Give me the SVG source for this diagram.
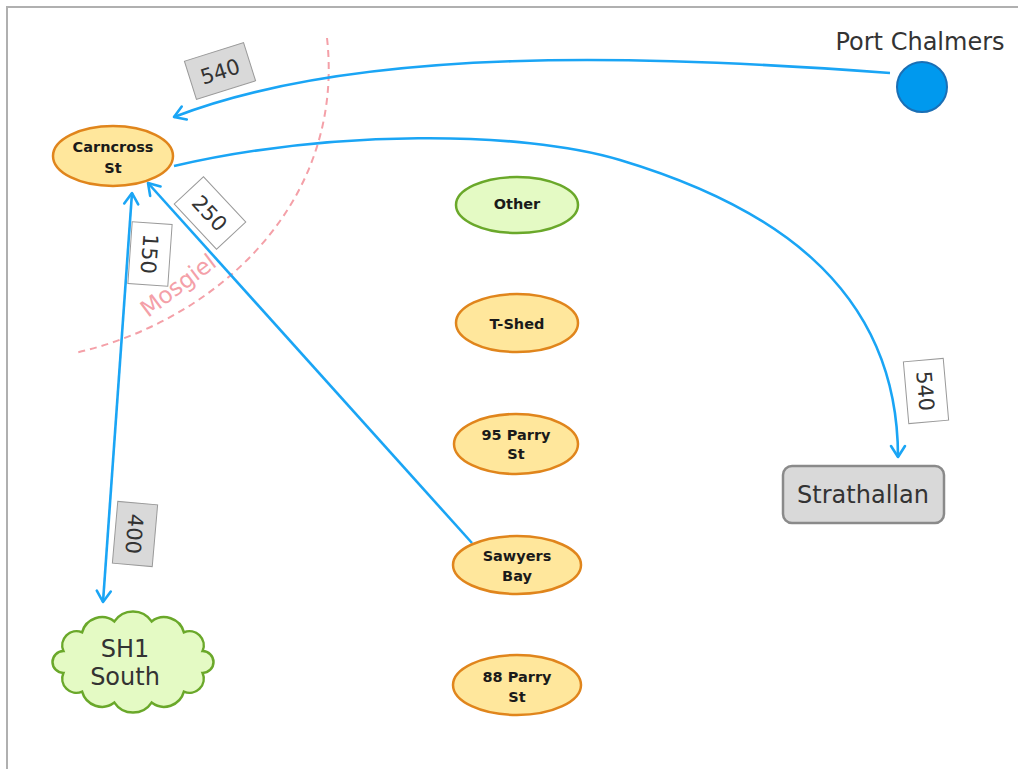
<svg xmlns="http://www.w3.org/2000/svg" width="1018" height="769" viewBox="0 0 1018 769">
<style>
.frame{fill:none;stroke:#b0b0b0;stroke-width:2}
.conn{fill:none;stroke:#1aa5f5;stroke-width:2.6}
.orange{fill:#ffe79c;stroke:#e0851c;stroke-width:2.5}
.green{fill:#e4fac4;stroke:#6aa82a;stroke-width:2.5}
.nlab{font-family:"DejaVu Sans","Liberation Sans",sans-serif;font-weight:bold;font-size:14.5px;fill:#1a1a1a;text-anchor:middle}
.big{font-family:"DejaVu Sans","Liberation Sans",sans-serif;font-size:24px;fill:#333;text-anchor:middle}
.num{font-family:"DejaVu Sans","Liberation Sans",sans-serif;font-size:21px;fill:#333;text-anchor:middle}
.boxw{fill:#fff;stroke:#9a9a9a;stroke-width:1}
.boxg{fill:#d9d9d9;stroke:#9a9a9a;stroke-width:1}
</style>
<defs>
<marker id="arr" markerUnits="userSpaceOnUse" markerWidth="30" markerHeight="30" refX="0" refY="0" viewBox="-15 -15 30 30" orient="auto-start-reverse">
<path d="M-11,-7 L0,0 L-11,7" fill="none" stroke="#1aa5f5" stroke-width="2.6" stroke-linecap="round" stroke-linejoin="round"/>
</marker>
</defs>
<rect x="0" y="0" width="1018" height="769" fill="#fff"/>
<path class="frame" d="M7,769 L7,7 L1018,7"/>

<g id="mosgiel">
<path d="M327,38 C345,200 220,320 75,353" fill="none" stroke="#f4a0a8" stroke-width="2" stroke-dasharray="7 5"/>
<text x="148" y="318" transform="rotate(-37 148 318)" font-family="DejaVu Sans,Liberation Sans,sans-serif" font-size="23" fill="#f4a0a8">Mosgiel</text>
</g>

<g id="connectors">
<path class="conn" d="M890,73 C650,55 360,45 174,117" marker-end="url(#arr)"/>
<path class="conn" d="M174,166 C330,130 520,130 620,160 C760,202 898,280 898,457" marker-end="url(#arr)"/>
<path class="conn" d="M472,543 L148,183" marker-end="url(#arr)"/>
<path class="conn" d="M103,602 L132,193" marker-start="url(#arr)" marker-end="url(#arr)"/>
</g>

<g id="carncross">
<ellipse class="orange" cx="113" cy="156" rx="60" ry="30"/>
<text class="nlab" x="113" y="152">Carncross</text>
<text class="nlab" x="113" y="173">St</text>
</g>
<g id="other">
<ellipse class="green" cx="517" cy="205" rx="61" ry="28"/>
<text class="nlab" x="517" y="209">Other</text>
</g>
<g id="tshed">
<ellipse class="orange" cx="517" cy="323" rx="61" ry="29"/>
<text class="nlab" x="517" y="329">T-Shed</text>
</g>
<g id="parry95">
<ellipse class="orange" cx="516" cy="444" rx="62" ry="30"/>
<text class="nlab" x="516" y="440">95 Parry</text>
<text class="nlab" x="516" y="459">St</text>
</g>
<g id="sawyers">
<ellipse class="orange" cx="517" cy="565" rx="64" ry="29"/>
<text class="nlab" x="517" y="561">Sawyers</text>
<text class="nlab" x="517" y="581">Bay</text>
</g>
<g id="parry88">
<ellipse class="orange" cx="517" cy="685" rx="64" ry="30"/>
<text class="nlab" x="517" y="682">88 Parry</text>
<text class="nlab" x="517" y="702">St</text>
</g>
<g id="portchalmers">
<circle cx="922" cy="87" r="25" fill="#0099ee" stroke="#1a6fb5" stroke-width="2"/>
<text class="big" x="920" y="50">Port Chalmers</text>
</g>
<g id="strathallan">
<rect x="783" y="466" width="161" height="57" rx="9" fill="#d9d9d9" stroke="#8a8a8a" stroke-width="2.5"/>
<text class="big" x="863" y="503">Strathallan</text>
</g>
<g id="sh1south">
<path class="green" d="M63.4,651.1 A14.3,14.3 0 0 1 82.1,632.3 A20.6,20.6 0 0 1 114.4,621.4 A22.3,22.3 0 0 1 151.6,621.4 A20.6,20.6 0 0 1 183.9,632.3 A14.3,14.3 0 0 1 202.6,651.1 A10.9,10.9 0 0 1 202.6,672.9 A14.3,14.3 0 0 1 183.9,691.7 A20.6,20.6 0 0 1 151.6,702.6 A22.3,22.3 0 0 1 114.4,702.6 A20.6,20.6 0 0 1 82.1,691.7 A14.3,14.3 0 0 1 63.4,672.9 A10.9,10.9 0 0 1 63.4,651.1 Z"/>
<text class="big" x="125" y="657">SH1</text>
<text class="big" x="125" y="685">South</text>
</g>

<g id="labels">
<g transform="translate(220,71) rotate(-17.5)"><rect class="boxg" x="-31" y="-20" width="62" height="40"/><text class="num" x="0" y="8">540</text></g>
<g transform="translate(210,213) rotate(47)"><rect class="boxw" x="-31" y="-20" width="62" height="40"/><text class="num" x="0" y="8">250</text></g>
<g transform="translate(150,254) rotate(94)"><rect class="boxw" x="-31" y="-20" width="62" height="40"/><text class="num" x="0" y="8">150</text></g>
<g transform="translate(135,534) rotate(95)"><rect class="boxg" x="-31" y="-20" width="62" height="40"/><text class="num" x="0" y="8">400</text></g>
<g transform="translate(926,391) rotate(85)"><rect class="boxw" x="-31" y="-20" width="62" height="40"/><text class="num" x="0" y="8">540</text></g>
</g>
</svg>
